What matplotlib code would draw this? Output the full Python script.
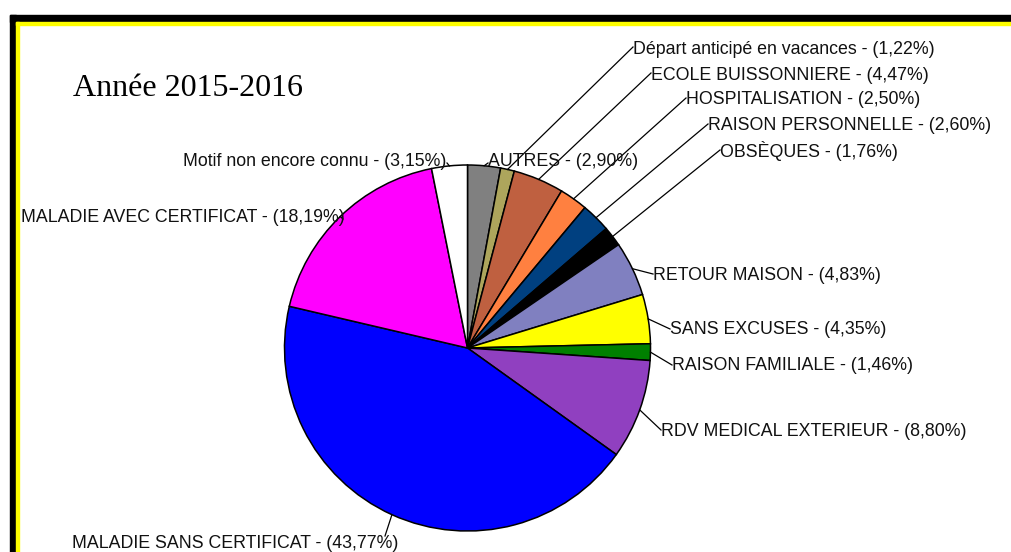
import matplotlib

matplotlib.use("Agg")
import matplotlib.pyplot as plt
from matplotlib.patches import Rectangle
import numpy as np

# data, clockwise from the top
motifs = [
    "AUTRES",
    "Départ anticipé en vacances",
    "ECOLE BUISSONNIERE",
    "HOSPITALISATION",
    "RAISON PERSONNELLE",
    "OBSÈQUES",
    "RETOUR MAISON",
    "SANS EXCUSES",
    "RAISON FAMILIALE",
    "RDV MEDICAL EXTERIEUR",
    "MALADIE SANS CERTIFICAT",
    "MALADIE AVEC CERTIFICAT",
    "Motif non encore connu",
]
percents = [2.90, 1.22, 4.47, 2.50, 2.60, 1.76, 4.83, 4.35, 1.46, 8.80,
            43.77, 18.19, 3.15]
colors = ["#808080", "#ADA55C", "#BF6040", "#FF8040", "#004080", "#000000",
          "#8080C0", "#FFFF00", "#008000", "#9040C0", "#0000FF", "#FF00FF",
          "#FFFFFF"]
title = "Année 2015-2016"

# label layout in pixels: text x, text y, alignment, leader end x, leader end y
label_layout = [
    (488, 162, "left", 488, 163),
    (633, 49, "left", 633, 47),
    (651, 75, "left", 651, 73),
    (686, 100, "left", 686, 98),
    (708, 126, "left", 708, 124),
    (720, 151, "left", 720, 150),
    (653, 275, "left", 653, 274),
    (670, 330, "left", 670, 329),
    (672, 366, "left", 672, 365),
    (661, 431, "left", 661, 430),
    (72, 544, "left", 385, 536),
    (345, 218, "right", 343, 219),
    (446, 162, "right", 447, 163),
]

W, H = 1012, 552
center = (467.5, 348)
radius = 183

fig = plt.figure(figsize=(W / 100, H / 100), dpi=100)
ax = fig.add_axes([0, 0, 1, 1])

wedges, _ = ax.pie(
    percents,
    colors=colors,
    startangle=270,
    counterclock=True,
    center=center,
    radius=radius,
    frame=True,
    wedgeprops=dict(edgecolor="black", linewidth=1.1),
)
ax.set_xlim(0, W)
ax.set_ylim(H, 0)
ax.set_aspect("auto")
ax.axis("off")

for w, name, pct, (tx, ty, ha, lx, ly) in zip(wedges, motifs, percents, label_layout):
    mid = np.deg2rad((w.theta1 + w.theta2) / 2)
    px = center[0] + radius * np.cos(mid)
    py = center[1] + radius * np.sin(mid)
    ax.plot([px, lx], [py, ly], color="black", lw=0.9, zorder=3)
    txt = f"{name} - ({pct:.2f}%)".replace(".", ",")
    ax.text(tx, ty, txt, ha=ha, va="center", fontsize=12.8,
            family="Liberation Sans", color="#111111", zorder=4)

ax.text(73, 88, title, ha="left", va="center", fontsize=23,
        family="Liberation Serif", color="black")

# frame: black outer band, yellow inner band
ax.add_patch(Rectangle((10, 15), W, 7, color="black", zorder=10))
ax.add_patch(Rectangle((10, 15), 6, H, color="black", zorder=10))
ax.add_patch(Rectangle((16, 22), W, 3, color="#FFFF00", zorder=10))
ax.add_patch(Rectangle((16, 22), 3, H, color="#FFFF00", zorder=10))

fig.savefig("out.png", dpi=100)
